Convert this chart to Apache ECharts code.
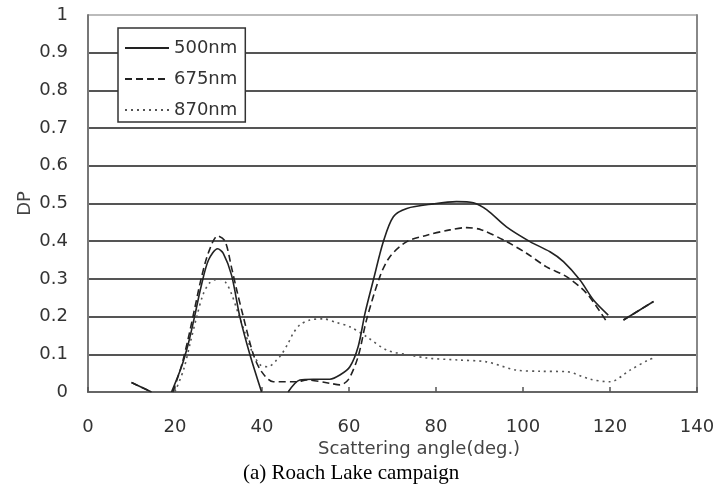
<!DOCTYPE html>
<html>
<head>
<meta charset="utf-8">
<script src="https://cdn.jsdelivr.net/npm/echarts@6/dist/echarts.min.js"></script>
<style>
  html, body { margin: 0; padding: 0; background: #fff; }
  #chart { width: 727px; height: 487px; }
</style>
</head>
<body>
<div id="chart"></div>
<script>
// values, '-' = gap in the curve
const angle500 = [10, 14.6, 15, 19.2, 21.5, 23.1, 24.5, 26, 27.7, 29.8, 31.1, 33, 34.9, 37.2, 39.9, 40.5, 46, 48.7, 51.8, 55.6, 57.9, 60.2, 62.1, 63.7, 65.6, 67.9, 70.2, 73.3, 79.4, 84.7, 88.6, 91.7, 96.2, 101.6, 106.2, 109.3, 113.1, 116.2, 119.6, 121.5, 123.1, 130];
const dp500 = [0.025, 0, '-', 0, 0.067, 0.13, 0.2, 0.28, 0.35, 0.38, 0.368, 0.31, 0.2, 0.1, 0, '-', 0, 0.032, 0.034, 0.034, 0.045, 0.067, 0.12, 0.21, 0.297, 0.399, 0.465, 0.487, 0.499, 0.505, 0.502, 0.483, 0.438, 0.399, 0.372, 0.346, 0.297, 0.244, 0.204, '-', 0.191, 0.24];

const angle675 = [10, 14.6, 15, 19.5, 21.5, 23, 24.5, 26, 27.7, 29.8, 31.5, 33, 34.2, 35.7, 38, 39.9, 42.6, 48, 50.3, 55.6, 57.9, 59.8, 62.1, 64, 67.1, 69.4, 73.3, 77.9, 83.2, 87, 90.5, 96.2, 100.8, 105.4, 110, 114.6, 119.2, 121.5, 123.1, 130];
const dp675 = [0.025, 0, '-', 0, 0.07, 0.14, 0.22, 0.3, 0.37, 0.414, 0.4, 0.33, 0.27, 0.2, 0.1, 0.054, 0.027, 0.027, 0.032, 0.023, 0.019, 0.032, 0.094, 0.19, 0.306, 0.359, 0.399, 0.416, 0.43, 0.436, 0.43, 0.399, 0.368, 0.332, 0.306, 0.262, 0.187, '-', 0.191, 0.24];

const angle870 = [20, 22, 23.5, 25, 26.5, 28, 30, 31.7, 33, 34.5, 36, 38, 39.8, 41.4, 43.4, 44.5, 46, 47.2, 48.7, 51, 54.1, 57.2, 60.2, 64, 68.7, 74, 78, 85, 91.6, 98.5, 104, 110, 115.4, 120, 124.6, 128.8, 130];
const dp870 = [0, 0.06, 0.13, 0.2, 0.26, 0.29, 0.3, 0.29, 0.26, 0.21, 0.16, 0.1, 0.07, 0.067, 0.085, 0.1, 0.129, 0.156, 0.178, 0.191, 0.194, 0.184, 0.173, 0.147, 0.111, 0.098, 0.09, 0.085, 0.08, 0.058, 0.055, 0.054, 0.034, 0.027, 0.058, 0.085, 0.09];

const seriesNames = ["500nm", "675nm", "870nm"];
const xTicks = [0, 140, 20];
const yTicks = [0, 1, 0.1];

function pairs(xs, ys) {
  return xs.map((x, i) => [x, ys[i]]);
}

const font = "DejaVu Sans";
const chart = echarts.init(document.getElementById("chart"));

// gridlines: top one (1.0) is lighter in the reference
let splitColors = [];
for (let i = 0; i < 11; i++) splitColors.push(i === 10 ? "#bbb" : "#555");

const option = {
  animation: false,
  backgroundColor: "#fff",
  title: [
    {
      text: "Scattering angle(deg.)",
      left: 318,
      top: 440,
      padding: 0,
      textStyle: { fontFamily: font, fontSize: 18, fontWeight: "normal", color: "#444" },
    },
    {
      text: "(a) Roach Lake campaign",
      left: 243,
      top: 463,
      padding: 0,
      textStyle: { fontFamily: "Liberation Serif", fontSize: 21, fontWeight: "normal", color: "#000" },
    },
  ],
  grid: { left: 88, right: 30, top: 15, bottom: 95 },
  legend: {
    orient: "vertical",
    left: 118,
    top: 28,
    padding: [10, 8, 2, 6],
    itemWidth: 44,
    itemHeight: 14,
    itemGap: 11,
    backgroundColor: "#fff",
    borderColor: "#333",
    borderWidth: 1.5,
    borderRadius: 0,
    // hide the marker dot, keep only the line sample
    itemStyle: { opacity: 0 },
    textStyle: { fontFamily: font, fontSize: 18, lineHeight: 20, color: "#333" },
    data: seriesNames,
  },
  xAxis: {
    type: "value",
    min: xTicks[0],
    max: xTicks[1],
    interval: xTicks[2],
    axisLine: { show: true, lineStyle: { color: "#666", width: 2 } },
    axisTick: { show: true, inside: true, length: 5, lineStyle: { color: "#555", width: 1.5 } },
    axisLabel: { margin: 26, fontFamily: font, fontSize: 18, color: "#333" },
    splitLine: { show: false },
  },
  yAxis: [
    {
      type: "value",
      min: yTicks[0],
      max: yTicks[1],
      interval: yTicks[2],
      name: "DP",
      nameLocation: "middle",
      nameRotate: 90,
      nameGap: 54,
      nameMoveOverlap: false,
      nameTextStyle: { fontFamily: font, fontSize: 18, color: "#444" },
      axisLine: { show: true, lineStyle: { color: "#777", width: 2 } },
      axisTick: { show: false },
      axisLabel: { margin: 20, fontFamily: font, fontSize: 18, color: "#333" },
      splitLine: { show: true, lineStyle: { color: splitColors, width: 2 } },
    },
    {
      // right border of the plot box
      type: "value",
      position: "right",
      min: yTicks[0],
      max: yTicks[1],
      axisLine: { show: true, lineStyle: { color: "#888", width: 2 } },
      axisTick: { show: false },
      axisLabel: { show: false },
      splitLine: { show: false },
    },
  ],
  series: [
    {
      name: seriesNames[0],
      type: "line",
      data: pairs(angle500, dp500),
      symbol: "none",
      smooth: 0.3,
      z: 5,
      lineStyle: { color: "#222", width: 1.6, type: "solid" },
      itemStyle: { color: "#222" },
    },
    {
      name: seriesNames[1],
      type: "line",
      data: pairs(angle675, dp675),
      symbol: "none",
      smooth: 0.3,
      z: 4,
      lineStyle: { color: "#222", width: 1.6, type: [7, 4] },
      itemStyle: { color: "#222" },
    },
    {
      name: seriesNames[2],
      type: "line",
      data: pairs(angle870, dp870),
      symbol: "none",
      smooth: 0.3,
      z: 3,
      lineStyle: { color: "#555", width: 1.6, type: [2, 4] },
      itemStyle: { color: "#555" },
    },
  ],
};

chart.setOption(option);
</script>
</body>
</html>
